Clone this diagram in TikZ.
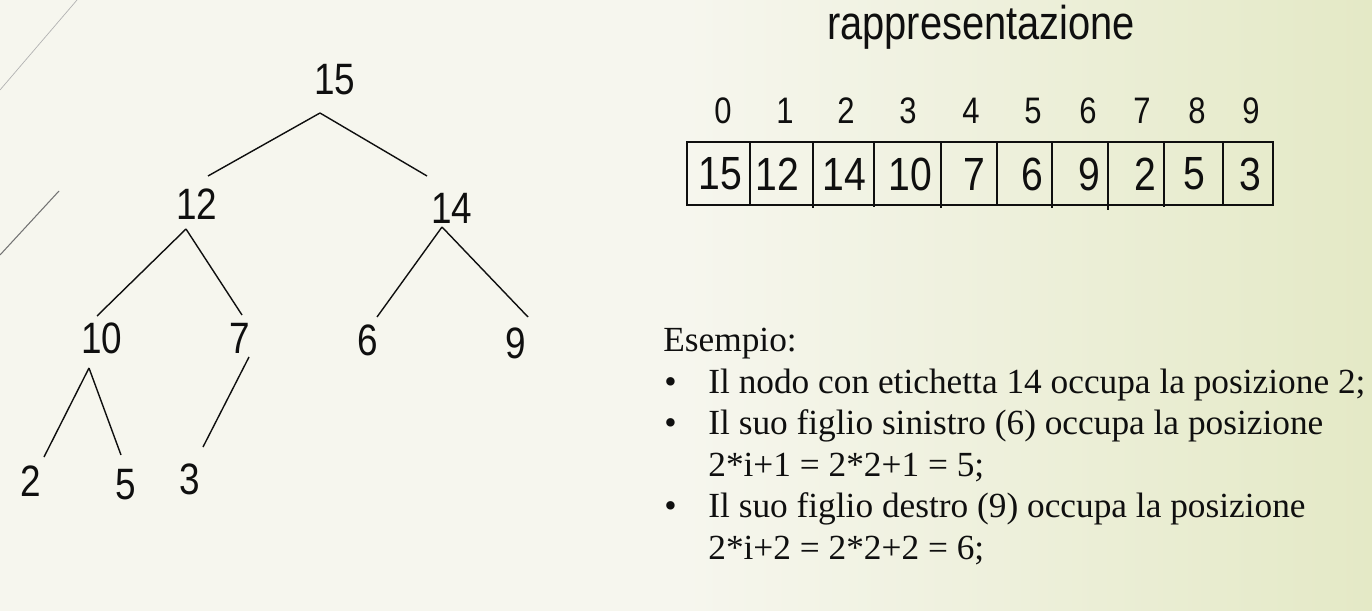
\documentclass[tikz,border=0pt]{standalone}
\usepackage{fontspec}
\setmainfont{Liberation Serif}
\newfontfamily\narrowsans{Liberation Sans}[FakeStretch=0.84]
\definecolor{bgcream}{RGB}{246,246,238}
\definecolor{bggreen}{RGB}{228,233,198}
\definecolor{ink}{RGB}{15,15,15}

\begin{document}
\begin{tikzpicture}[x=0.02cm,y=-0.02cm,
    key/.style={font=\narrowsans\fontsize{25}{30}\selectfont,text=ink,inner sep=0pt},
    cellval/.style={font=\narrowsans\fontsize{26.5}{30}\selectfont,text=ink,inner sep=0pt},
    idx/.style={font=\narrowsans\fontsize{21}{24}\selectfont,text=ink,inner sep=0pt},
    link/.style={draw=ink,line width=0.8pt},
    txt/.style={font=\fontsize{20.1}{24}\selectfont,text=ink,anchor=base west,inner sep=0pt}]
        \useasboundingbox (0,0) rectangle (1372,611);
        \fill[bgcream] (0,0) rectangle (1372,611);
        \shade[left color=bgcream,right color=bggreen] (686,0) rectangle (1372,611);
        \draw[black!30,line width=0.4pt] (0,90) -- (77,0);
        \draw[black!55,line width=0.6pt] (59,191) -- (0,255);

        % albero
        \node[key] (N15) at (335,80) {15};
        \node[key] (N12) at (197,204) {12};
        \node[key] (N14) at (452,208) {14};
        \node[key] (N10) at (102,338) {10};
        \node[key] (N7) at (240,338) {7};
        \node[key] (N6) at (368,340) {6};
        \node[key] (N9) at (516,343) {9};
        \node[key] (N2) at (31,481) {2};
        \node[key] (N5) at (126,485) {5};
        \node[key] (N3) at (190,479) {3};

        \path [link]([shift={(-15,33)}]N15.center) edge ([shift={(11,-28)}]N12.center);
        \path [link]([shift={(-15,33)}]N15.center) edge ([shift={(-25,-32)}]N14.center);
        \path [link]([shift={(-11,25)}]N12.center) edge ([shift={(-5,-22)}]N10.center);
        \path [link]([shift={(-11,25)}]N12.center) edge ([shift={(2,-23)}]N7.center);
        \path [link]([shift={(-10,19)}]N14.center) edge ([shift={(9,-23)}]N6.center);
        \path [link]([shift={(-10,19)}]N14.center) edge ([shift={(12,-26)}]N9.center);
        \path [link]([shift={(-13,30)}]N10.center) edge ([shift={(13,-24)}]N2.center);
        \path [link]([shift={(-13,30)}]N10.center) edge ([shift={(-5,-30)}]N5.center);
        \path [link]([shift={(9,19)}]N7.center) edge ([shift={(13,-32)}]N3.center);

        % vettore
        \node[font=\narrowsans\fontsize{27}{30}\selectfont,text=ink,anchor=base,inner sep=0pt] (title) at (981,40) {rappresentazione};

        \node[idx] (i0) at (723,111) {0};
        \node[idx] (i1) at (785,111) {1};
        \node[idx] (i2) at (846,111) {2};
        \node[idx] (i3) at (908,111) {3};
        \node[idx] (i4) at (971,111) {4};
        \node[idx] (i5) at (1033,111) {5};
        \node[idx] (i6) at (1088,111) {6};
        \node[idx] (i7) at (1142,111) {7};
        \node[idx] (i8) at (1197,111) {8};
        \node[idx] (i9) at (1251,111) {9};

        \draw[link] (687,142) rectangle (1273,205);
        \draw[link] (750,142) -- (750,205);
        \draw[link] (813,142) -- (813,208);
        \draw[link] (874,142) -- (874,207);
        \draw[link] (941,142) -- (941,208);
        \draw[link] (997,142) -- (997,206);
        \draw[link] (1052,142) -- (1052,208);
        \draw[link] (1108,142) -- (1108,210);
        \draw[link] (1164,142) -- (1164,207);
        \draw[link] (1223,142) -- (1223,206);

        \node[cellval] (a0) at (720,174) {15};
        \node[cellval] (a1) at (777,174) {12};
        \node[cellval] (a2) at (844,174) {14};
        \node[cellval] (a3) at (910,174) {10};
        \node[cellval] (a4) at (974,174) {7};
        \node[cellval] (a5) at (1032,174) {6};
        \node[cellval] (a6) at (1089,174) {9};
        \node[cellval] (a7) at (1145,174) {2};
        \node[cellval] (a8) at (1194,174) {5};
        \node[cellval] (a9) at (1250,174) {3};

        % esempio
        \node[txt] (ex) at (663,351) {Esempio:};
        \node[txt] (b1) at (664,393) {\textbullet};
        \node[txt] (l1) at (708,393) {Il nodo con etichetta 14 occupa la posizione 2;};
        \node[txt] (b2) at (664,434) {\textbullet};
        \node[txt] (l2) at (708,434) {Il suo figlio sinistro (6) occupa la posizione};
        \node[txt] (l3) at (708,476) {2*i+1 = 2*2+1 = 5;};
        \node[txt] (b3) at (664,517) {\textbullet};
        \node[txt] (l4) at (708,517) {Il suo figlio destro (9) occupa la posizione};
        \node[txt] (l5) at (708,559) {2*i+2 = 2*2+2 = 6;};
    \end{tikzpicture}
\end{document}
